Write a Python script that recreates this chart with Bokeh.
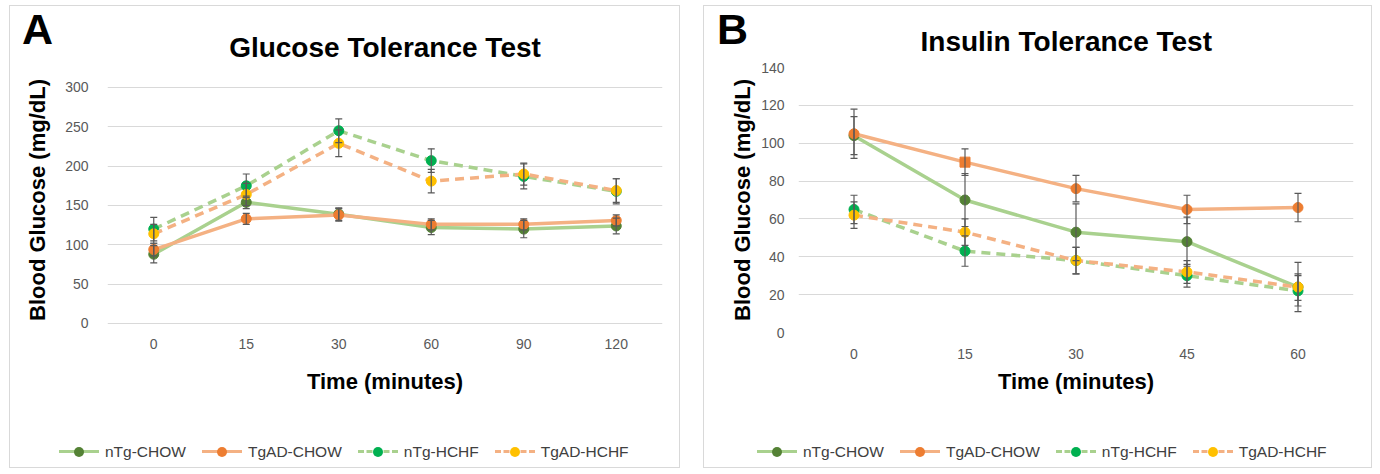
from bokeh.plotting import figure
from bokeh.layouts import row, column
from bokeh.models import (ColumnDataSource, Whisker, TeeHead, Range1d,
                          SingleIntervalTicker, Div, Spacer)
from bokeh.embed import file_html
from bokeh.resources import INLINE

# ---------------- data ----------------
SERIES = ["nTg-CHOW", "TgAD-CHOW", "nTg-HCHF", "TgAD-HCHF"]

GTT_TIMES = ["0", "15", "30", "60", "90", "120"]
GTT_NTG_CHOW = [88, 154, 139, 122, 120, 124]
GTT_NTG_CHOW_ERR = [11, 8, 8, 9, 11, 10]
GTT_TGAD_CHOW = [94, 133, 138, 126, 126, 131]
GTT_TGAD_CHOW_ERR = [8, 7, 8, 7, 7, 7]
GTT_NTG_HCHF = [120, 175, 245, 207, 187, 168]
GTT_NTG_HCHF_ERR = [15, 15, 15, 15, 16, 16]
GTT_TGAD_HCHF = [114, 164, 229, 181, 190, 169]
GTT_TGAD_HCHF_ERR = [12, 14, 17, 15, 14, 15]

ITT_TIMES = ["0", "15", "30", "45", "60"]
ITT_NTG_CHOW = [104, 70, 53, 48, 24]
ITT_NTG_CHOW_ERR = [10, 14, 15, 13, 13]
ITT_TGAD_CHOW = [105, 90, 76, 65, 66]
ITT_TGAD_CHOW_ERR = [13, 7, 7, 7.5, 7.5]
ITT_NTG_HCHF = [65, 43, 38, 30, 22]
ITT_NTG_HCHF_ERR = [7.5, 8, 7, 6, 8]
ITT_TGAD_HCHF = [62, 53, 38, 32, 24]
ITT_TGAD_HCHF_ERR = [7, 7, 7, 6, 7]

# ---------------- styles ----------------
MARKER_COLORS = ["#548235", "#ed7d31", "#00b050", "#ffc000"]
LINE_COLORS = ["#a9d18e", "#f4b183", "#a9d18e", "#f4b183"]
DASHES = ["solid", "solid", "9 6", "9 6"]
ITT_TGAD_CHOW_MARKERS = ["circle", "square", "circle", "circle", "circle"]
FONT = "Liberation Sans"
ERR_COLOR = "#595959"


def make_panel(title, times, values, errors, yrange, yint, width, left, right,
               title_standoff, title_align, title_offset,
               ytick_standoff, ylab_standoff, xtick_standoff, xlab_standoff,
               markers_list):
    p = figure(x_range=times, y_range=Range1d(*yrange), width=width, height=463,
               output_backend="svg", toolbar_location=None,
               min_border_left=left, min_border_right=right,
               min_border_top=61, min_border_bottom=137,
               styles={"border": "1px solid #d9d9d9"})
    p.outline_line_color = None
    p.xgrid.grid_line_color = None
    p.ygrid.grid_line_color = "#d9d9d9"
    p.ygrid.grid_line_width = 1
    p.yaxis.ticker = SingleIntervalTicker(interval=yint)

    for ax in (p.xaxis[0], p.yaxis[0]):
        ax.axis_line_color = None
        ax.major_tick_line_color = None
        ax.minor_tick_line_color = None
        ax.major_label_text_font = FONT
        ax.major_label_text_font_size = "14px"
        ax.major_label_text_color = "#595959"
        ax.axis_label_text_font = FONT
        ax.axis_label_text_font_size = "22px"
        ax.axis_label_text_font_style = "bold"
        ax.axis_label_text_color = "#000000"
    p.xaxis.axis_label = "Time (minutes)"
    p.yaxis.axis_label = "Blood Glucose (mg/dL)"
    p.xaxis.major_label_standoff = xtick_standoff
    p.xaxis.axis_label_standoff = xlab_standoff
    p.yaxis.major_label_standoff = ytick_standoff
    p.yaxis.axis_label_standoff = ylab_standoff

    p.title.text = title
    p.title.align = title_align
    p.title.offset = title_offset
    p.title.text_font = FONT
    p.title.text_font_size = "28px"
    p.title.text_font_style = "bold"
    p.title.text_color = "#000000"
    p.title.standoff = title_standoff

    for i, name in enumerate(SERIES):
        vals = values[i]
        errs = errors[i]
        mk = markers_list[i] if markers_list[i] is not None else ["circle"] * len(times)
        src = ColumnDataSource(dict(
            x=times, y=vals,
            lower=[v - e for v, e in zip(vals, errs)],
            upper=[v + e for v, e in zip(vals, errs)],
            marker=mk))
        p.line("x", "y", source=src, line_color=LINE_COLORS[i], line_width=3.5,
               line_dash=DASHES[i])
        w = Whisker(base="x", lower="lower", upper="upper", source=src, level="glyph",
                    line_color=ERR_COLOR, line_width=1.2,
                    upper_head=TeeHead(size=7, line_color=ERR_COLOR, line_width=1.2),
                    lower_head=TeeHead(size=7, line_color=ERR_COLOR, line_width=1.2))
        p.add_layout(w)
        p.scatter("x", "y", source=src, marker="marker", size=10,
                  fill_color=MARKER_COLORS[i], line_color=MARKER_COLORS[i])
    return p


pA = make_panel("Glucose Tolerance Test", GTT_TIMES,
                [GTT_NTG_CHOW, GTT_TGAD_CHOW, GTT_NTG_HCHF, GTT_TGAD_HCHF],
                [GTT_NTG_CHOW_ERR, GTT_TGAD_CHOW_ERR, GTT_NTG_HCHF_ERR, GTT_TGAD_HCHF_ERR],
                (-11.44, 325.4), 50, 671, 97, 19,
                10, "center", 0,
                13, 12, 0, 17,
                [None, None, None, None])

pB = make_panel("Insulin Tolerance Test", ITT_TIMES,
                [ITT_NTG_CHOW, ITT_TGAD_CHOW, ITT_NTG_HCHF, ITT_TGAD_HCHF],
                [ITT_NTG_CHOW_ERR, ITT_TGAD_CHOW_ERR, ITT_NTG_HCHF_ERR, ITT_TGAD_HCHF_ERR],
                (0, 140), 20, 669, 94, 20,
                22, "left", 122,
                8, 3, 10, 7,
                [None, ITT_TGAD_CHOW_MARKERS, None, None])


def letter_div(letter, left):
    return Div(text=("<div style=\"font: bold 43px/43px 'Liberation Sans', Arial, sans-serif;"
                     " color: #000000;\">%s</div>" % letter),
               margin=0,
               styles={"position": "absolute", "left": "%dpx" % left, "top": "8px",
                       "z-index": "10"})


def legend_div(left, top):
    parts = []
    for i, name in enumerate(SERIES):
        style = "dashed" if DASHES[i] != "solid" else "solid"
        parts.append(
            "<span style=\"position:relative;display:inline-block;width:40px;height:20px;"
            "vertical-align:middle;margin-right:6px;\">"
            "<span style=\"position:absolute;left:0;width:40px;top:8px;height:0;"
            "border-top:3.5px %s %s;\"></span>"
            "<span style=\"position:absolute;left:15px;top:5px;width:10px;height:10px;"
            "border-radius:50%%;background:%s;\"></span></span>"
            "<span style=\"vertical-align:middle;margin-right:16px;\">%s</span>"
            % (style, LINE_COLORS[i], MARKER_COLORS[i], name))
    html = ("<div style=\"font: 15.5px/20px 'Liberation Sans', Arial, sans-serif;"
            " color:#404040; white-space:nowrap;\">%s</div>" % "".join(parts))
    return Div(text=html, margin=0,
               styles={"position": "absolute", "left": "%dpx" % left, "top": "%dpx" % top,
                       "z-index": "10"})


charts = row(Spacer(width=9), pA, Spacer(width=23), pB, spacing=0)
layout = column(Spacer(height=5), charts,
                letter_div("A", 22), letter_div("B", 717),
                legend_div(59, 441), legend_div(757, 441), spacing=0)

open("out.html", "w").write(file_html(layout, INLINE))
